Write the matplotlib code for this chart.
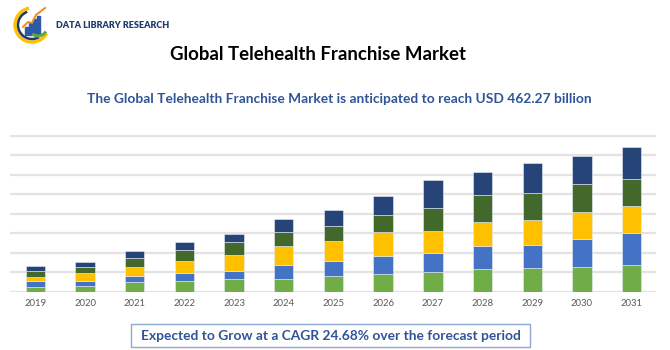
import matplotlib.pyplot as plt
import numpy as np
from matplotlib.patches import Arc, Rectangle

plt.rcParams['font.family'] = ['Lato', 'DejaVu Sans']

years = ['2019', '2020', '2021', '2022', '2023', '2024', '2025',
         '2026', '2027', '2028', '2029', '2030', '2031']
# stacked segments, bottom to top (gridline = 1 unit)
seg_green = [0.26, 0.31, 0.51, 0.55, 0.63, 0.67, 0.80, 0.89, 0.99, 1.16, 1.20, 1.28, 1.38]
seg_blue = [0.29, 0.26, 0.32, 0.41, 0.44, 0.70, 0.77, 0.94, 0.99, 1.20, 1.21, 1.40, 1.61]
seg_yellow = [0.21, 0.39, 0.43, 0.62, 0.82, 0.99, 1.01, 1.21, 1.13, 1.21, 1.26, 1.42, 1.42]
seg_dkgreen = [0.31, 0.29, 0.48, 0.55, 0.65, 0.72, 0.80, 0.91, 1.18, 1.38, 1.37, 1.42, 1.38]
seg_navy = [0.27, 0.29, 0.34, 0.43, 0.44, 0.67, 0.80, 0.96, 1.42, 1.20, 1.57, 1.42, 1.61]

colors = ['#70ad47', '#4472c4', '#ffc000', '#43682b', '#264478']
series = [seg_green, seg_blue, seg_yellow, seg_dkgreen, seg_navy]

fig = plt.figure(figsize=(6.7, 3.5), dpi=100)
ax = fig.add_axes([10/670, 58.3/350, 646/670, 156.7/350])

x = np.arange(len(years))
bottom = np.zeros(len(years))
for vals, c in zip(series, colors):
    ax.bar(x, vals, width=0.39, bottom=bottom, color=c, edgecolor='#e8edf5',
           linewidth=0.4, zorder=3)
    bottom += np.array(vals)

ax.set_xlim(-0.51, 12.49)
ax.set_ylim(0, 8.035)
ax.set_yticks(range(0, 9))
ax.yaxis.grid(True, color='#e3e3e3', linewidth=1.6, zorder=0)
ax.set_yticklabels([])
ax.tick_params(axis='y', length=0)
ax.set_xticks(x)
ax.set_xticklabels(years, fontsize=6.8, color='#595959')
ax.tick_params(axis='x', length=0, pad=5)
for s in ax.spines.values():
    s.set_visible(False)

# titles
fig.text(317.5/670, 1 - 55/350, 'Global Telehealth Franchise Market',
         ha='center', va='center', fontsize=13.4, fontweight='bold', color='black')
fig.text(339/670, 1 - 99/350,
         'The Global Telehealth Franchise Market is anticipated to reach USD 462.27 billion',
         ha='center', va='center', fontsize=9.9, fontweight='bold', color='#2f5597')

# bottom box
fig.patches.append(Rectangle((131/670, 1 - 347/350), 399/670, 23/350,
                             transform=fig.transFigure, facecolor='white',
                             edgecolor='#8fa9d6', linewidth=1.0))
fig.text(330.5/670, 1 - 335.5/350,
         'Expected to Grow at a CAGR 24.68% over the forecast period',
         ha='center', va='center', fontsize=9.9, fontweight='bold', color='#2f5597')

# logo
lax = fig.add_axes([13/670, 1 - 45/350, 38/670, 40/350])
lax.set_xlim(0, 38)
lax.set_ylim(0, 40)
lax.axis('off')
lax.add_patch(Arc((19, 20), 34, 34, theta1=100, theta2=330, color='#ffc000', lw=2.4))
lax.add_patch(Arc((19, 20), 28, 28, theta1=110, theta2=300, color='#1f3a6e', lw=1.8))
for bx, bh in zip([12, 16, 20, 24], [8, 12, 16, 19]):
    lax.add_patch(Rectangle((bx, 10), 3, bh, color='#2a5aa8'))
lax.plot([10, 15, 19, 23, 32], [18, 23, 22, 30, 37], color='#f08a24', lw=1.4)
lax.add_patch(Arc((25, 18), 18, 18, theta1=230, theta2=330, color='#5ea842', lw=2.2))
fig.text(56/670, 1 - 25/350, 'DATA LIBRARY RESEARCH', ha='left', va='center',
         fontsize=6.5, fontweight='heavy', color='#1f3a6e')

fig.savefig('out.png', dpi=100)
